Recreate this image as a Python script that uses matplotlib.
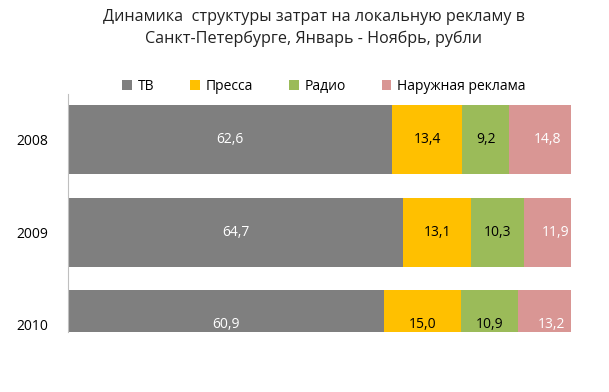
import numpy as np
import matplotlib
matplotlib.use("Agg")
import matplotlib.pyplot as plt

plt.rcParams['font.family'] = ['Open Sans', 'DejaVu Sans']

# --- Dados ---
years = ['2008', '2009', '2010']
series_names = ['ТВ', 'Пресса', 'Радио', 'Наружная реклама']
tv = [62.6, 64.7, 60.9]
pressa = [13.4, 13.1, 15.0]
radio = [9.2, 10.3, 10.9]
naruzh = [14.8, 11.9, 13.2]

colors = ['#7f7f7f', '#ffc000', '#9bbb59', '#d99694']
text_colors = ['white', 'black', 'black', 'white']

fig = plt.figure(figsize=(6.09, 3.92), dpi=100)
ax = fig.add_axes([0.1117, 0.153, 0.826, 0.607])

y = np.arange(len(years))
left = np.zeros(len(years))
for vals, name, c, tc in zip([tv, pressa, radio, naruzh], series_names, colors, text_colors):
    vals = np.array(vals)
    ax.barh(y, vals, left=left, height=0.745, color=c, label=name)
    for yi, l, v in zip(y, left, vals):
        ax.text(l + v / 2, yi, f'{v:.1f}'.replace('.', ','), ha='center', va='center',
                color=tc, fontsize=10, clip_on=True)
    left += vals

# o gráfico original aparece cortado à direita e em baixo
ax.set_xlim(0, 97.1)
ax.set_ylim(2.08, -0.49)
ax.set_yticks(y)
ax.set_yticklabels(years, fontsize=10)
ax.set_xticks([])
ax.tick_params(axis='y', length=0, pad=14)
for s in ['top', 'right', 'bottom']:
    ax.spines[s].set_visible(False)
ax.spines['left'].set_color('#bfbfbf')

fig.text(0.515, 0.978, 'Динамика  структуры затрат на локальную рекламу в\nСанкт-Петербурге, Январь - Ноябрь, рубли',
         ha='center', va='top', fontsize=11.6, linespacing=1.45, color='#222222')

fig.legend(loc='center', bbox_to_anchor=(0.532, 0.78), ncol=4, frameon=False,
           fontsize=10, handlelength=0.7, handleheight=0.7, handletextpad=0.4,
           columnspacing=2.6)

fig.savefig('out.png', dpi=100)
